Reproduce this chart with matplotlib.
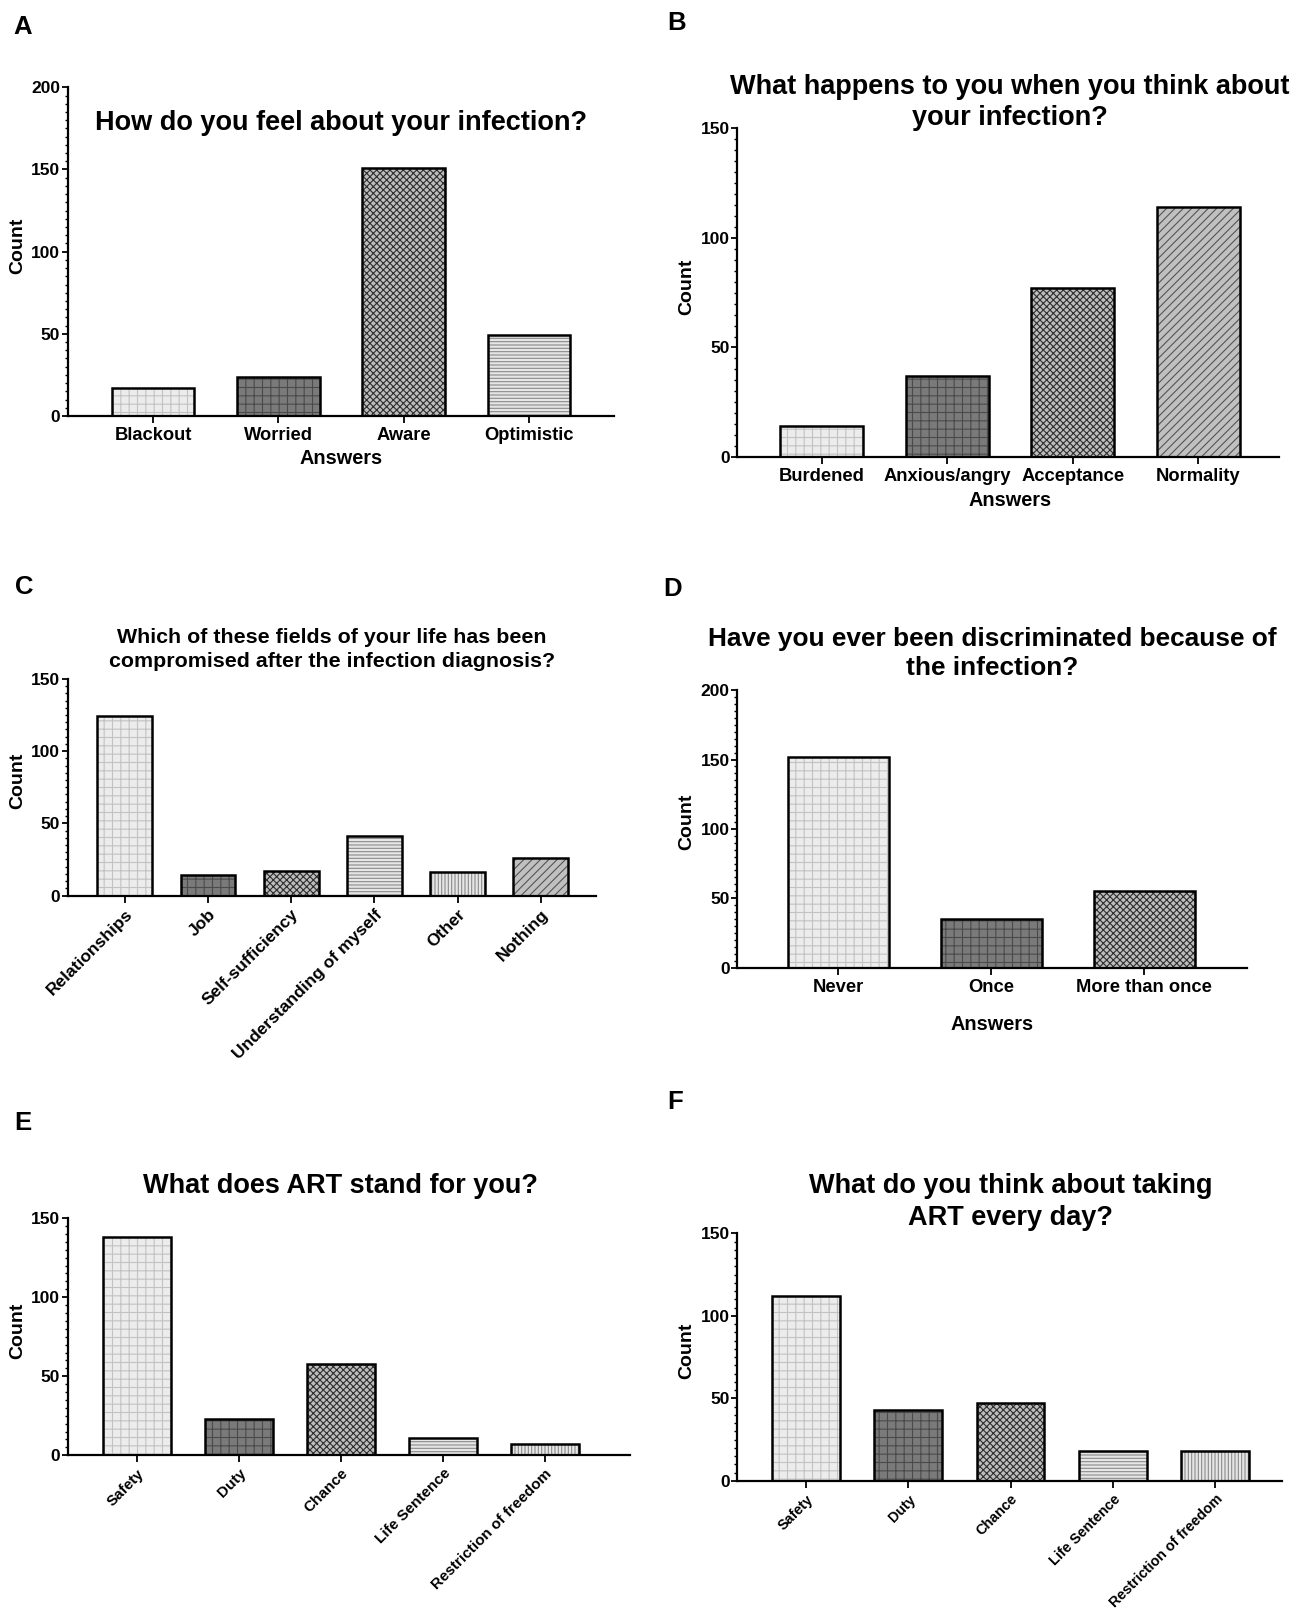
import matplotlib
matplotlib.use('Agg')
import matplotlib.pyplot as plt
from matplotlib.ticker import MultipleLocator

plt.rcParams['font.family'] = ['Liberation Sans', 'DejaVu Sans']
plt.rcParams['font.weight'] = 'bold'
plt.rcParams['hatch.linewidth'] = 0.8

# ---------------- data ----------------
a_labels = ['Blackout', 'Worried', 'Aware', 'Optimistic']
a_counts = [17, 24, 151, 49]

b_labels = ['Burdened', 'Anxious/angry', 'Acceptance', 'Normality']
b_counts = [14, 37, 77, 114]

c_labels = ['Relationships', 'Job', 'Self-sufficiency', 'Understanding of myself', 'Other', 'Nothing']
c_counts = [124, 14, 17, 41, 16, 26]

d_labels = ['Never', 'Once', 'More than once']
d_counts = [152, 35, 55]

e_labels = ['Safety', 'Duty', 'Chance', 'Life Sentence', 'Restriction of freedom']
e_counts = [138, 23, 58, 11, 7]

f_labels = ['Safety', 'Duty', 'Chance', 'Life Sentence', 'Restriction of freedom']
f_counts = [112, 43, 47, 18, 18]

# ---------------- styles ----------------
STY = {
    'lightplaid': ('#ececec', '++', '#c2c2c2'),
    'darkplaid': ('#7a7a7a', '++', '#4a4a4a'),
    'checker': ('#bdbdbd', 'xxxxx', '#2e2e2e'),
    'horiz': ('#e6e6e6', '-----', '#8a8a8a'),
    'vert': ('#e6e6e6', '|||||', '#8a8a8a'),
    'diag': ('#c0c0c0', '////', '#555555'),
}

W, H = 1292, 1611
fig = plt.figure(figsize=(W / 100, H / 100), dpi=100)


def px_axes(l, r, t, b):
    return fig.add_axes([l / W, 1 - b / H, (r - l) / W, (b - t) / H])


def ftext(x, y, s, **kw):
    fig.text(x / W, 1 - y / H, s, **kw)


def panel(rect, labels, counts, styles, ymax, xlim, rot=False, xfs=13.2):
    ax = px_axes(*rect)
    x = list(range(len(labels)))
    bars = ax.bar(x, counts, width=0.66, linewidth=0, zorder=2)
    for p, s in zip(bars, styles):
        face, hatch, hc = STY[s]
        p.set_facecolor(face)
        p.set_hatch(hatch)
        p.set_edgecolor(hc)
    ax.bar(x, counts, width=0.66, fill=False, edgecolor='black', linewidth=1.8, zorder=3)
    ax.set_xlim(*xlim)
    ax.set_ylim(0, ymax)
    ax.yaxis.set_major_locator(MultipleLocator(50))
    ax.yaxis.set_minor_locator(MultipleLocator(5))
    for sp in ['top', 'right']:
        ax.spines[sp].set_visible(False)
    for sp in ['left', 'bottom']:
        ax.spines[sp].set_linewidth(1.6)
    ax.tick_params(axis='y', which='major', length=4.5, width=1.3, labelsize=12.5, pad=1)
    ax.tick_params(axis='y', which='minor', length=2.5, width=1.0)
    ax.tick_params(axis='x', which='major', length=5, width=1.3, pad=3)
    ax.set_xticks(x)
    if rot:
        ax.set_xticklabels(labels, rotation=45, ha='right', va='top',
                           rotation_mode='anchor', fontsize=xfs, fontweight='bold')
    else:
        ax.set_xticklabels(labels, fontsize=xfs, fontweight='bold')
    for t in ax.get_yticklabels():
        t.set_fontweight('bold')
    ax.set_facecolor('none')
    return ax


# Panel A
panel((67.8, 614.2, 87.3, 416.0), a_labels, a_counts,
      ['lightplaid', 'darkplaid', 'checker', 'horiz'], 200, (-0.68, 3.68))
ftext(341, 123, 'How do you feel about your infection?', ha='center', va='center', fontsize=19.5)
ftext(341, 459, 'Answers', ha='center', va='center', fontsize=14.3)
ftext(17.5, 246, 'Count', ha='center', va='center', rotation=90, fontsize=14)
ftext(22.6, 26.5, 'A', ha='center', va='center', fontsize=18.5)

# Panel B
panel((737.4, 1278.7, 128.4, 457.0), b_labels, b_counts,
      ['lightplaid', 'darkplaid', 'checker', 'diag'], 150, (-0.67, 3.64))
ftext(1010, 102.5, 'What happens to you when you think about\nyour infection?', ha='center',
      va='center', fontsize=19.5, linespacing=1.24)
ftext(1010, 501, 'Answers', ha='center', va='center', fontsize=14.3)
ftext(687, 286.5, 'Count', ha='center', va='center', rotation=90, fontsize=14)
ftext(677, 23.5, 'B', ha='center', va='center', fontsize=18.5)

# Panel C
panel((67.8, 595.7, 678.9, 895.6), c_labels, c_counts,
      ['lightplaid', 'darkplaid', 'checker', 'horiz', 'vert', 'diag'], 150, (-0.685, 5.66),
      rot=True, xfs=12.5)
ftext(332, 649.5, 'Which of these fields of your life has been\ncompromised after the infection diagnosis?',
      ha='center', va='center', fontsize=15.4, linespacing=1.3)
ftext(17.5, 780.5, 'Count', ha='center', va='center', rotation=90, fontsize=14)
ftext(24.6, 587.4, 'C', ha='center', va='center', fontsize=18.5)

# Panel D
panel((737.4, 1246.8, 690.2, 967.5), d_labels, d_counts,
      ['lightplaid', 'darkplaid', 'checker'], 200, (-0.66, 2.67))
ftext(992, 653.5, 'Have you ever been discriminated because of\nthe infection?', ha='center',
      va='center', fontsize=18.9, linespacing=1.22)
ftext(992, 1025, 'Answers', ha='center', va='center', fontsize=14.3)
ftext(687, 822, 'Count', ha='center', va='center', rotation=90, fontsize=14)
ftext(672.7, 589.5, 'D', ha='center', va='center', fontsize=18.5)

# Panel E
panel((67.8, 629.6, 1218.1, 1455.3), e_labels, e_counts,
      ['lightplaid', 'darkplaid', 'checker', 'horiz', 'vert'], 150, (-0.68, 4.83),
      rot=True, xfs=11)
ftext(340.5, 1186, 'What does ART stand for you?', ha='center', va='center', fontsize=19.5)
ftext(17.5, 1331, 'Count', ha='center', va='center', rotation=90, fontsize=14)
ftext(22.6, 1122.5, 'E', ha='center', va='center', fontsize=18.5)

# Panel F
panel((737.4, 1281.7, 1233.4, 1481.0), f_labels, f_counts,
      ['lightplaid', 'darkplaid', 'checker', 'horiz', 'vert'], 150, (-0.67, 4.65),
      rot=True, xfs=10.4)
ftext(1011, 1202, 'What do you think about taking\nART every day?', ha='center', va='center',
      fontsize=19.5, linespacing=1.28)
ftext(687, 1350.5, 'Count', ha='center', va='center', rotation=90, fontsize=14)
ftext(674.8, 1102, 'F', ha='center', va='center', fontsize=18.5)

fig.savefig('out.png', dpi=100, facecolor='white')
